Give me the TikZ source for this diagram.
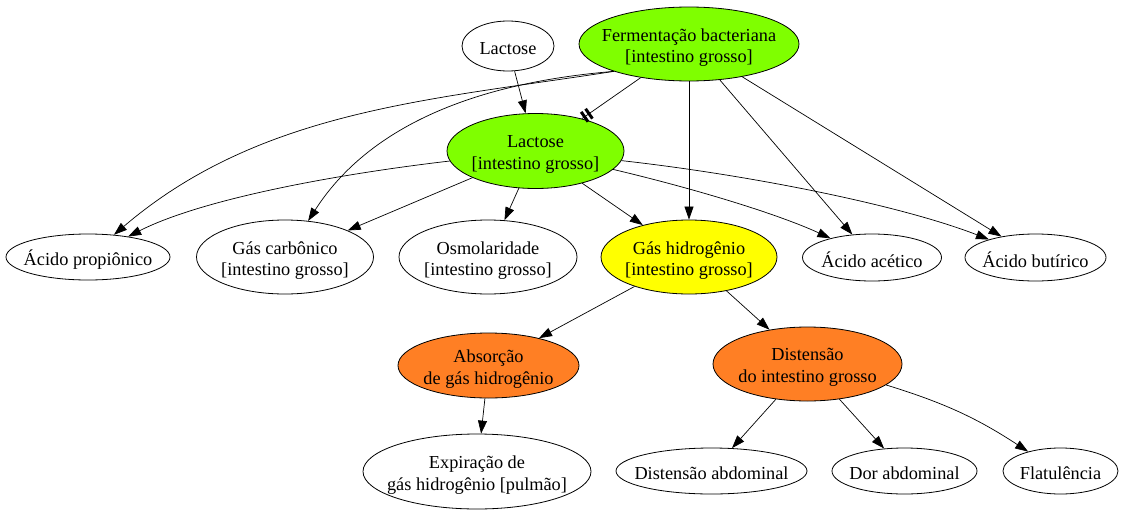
\documentclass[tikz,border=0pt]{standalone}
\usepackage{fontspec}
\setmainfont{Liberation Serif}
\usetikzlibrary{shapes.geometric,arrows.meta}
\definecolor{gvgreen}{HTML}{7FFF00}
\definecolor{gvyellow}{HTML}{FFFF00}
\definecolor{gvorange}{HTML}{FF7F24}
\begin{document}
\begin{tikzpicture}[x=1pt,y=-1pt,
  ell/.style={ellipse,draw=black,line width=0.8pt,inner sep=0pt},
  txt/.style={font=\fontsize{18.3}{21.5}\selectfont,align=center,inner sep=0pt,yshift=-3.5pt},
  conn/.style={draw=black,line width=0.7pt,-{Triangle[length=13pt,width=9pt]}},
  plainconn/.style={draw=black,line width=0.7pt},
  teebar/.style={sloped,rectangle,fill=black,draw=none,minimum width=3pt,minimum height=12pt,inner sep=0pt}
]
\useasboundingbox (0,0) rectangle (1124,514);
% top
\node[ell,minimum width=92pt,minimum height=50pt,label={[txt,yshift=1pt]center:Lactose}] (lac) at (508,46) {};
\node[ell,fill=gvgreen,minimum width=220pt,minimum height=74pt,label={[txt]center:Fermentação bacteriana\\{}[intestino grosso]}] (ferm) at (689,44) {};
\node[ell,fill=gvgreen,minimum width=177pt,minimum height=75pt,label={[txt]center:Lactose\\{}[intestino grosso]}] (lig) at (535.5,151) {};
% middle row
\node[ell,minimum width=164pt,minimum height=46pt,label={[txt,yshift=1pt]center:Ácido propiônico}] (prop) at (88,257) {};
\node[ell,minimum width=177pt,minimum height=74pt,label={[txt]center:Gás carbônico\\{}[intestino grosso]}] (carb) at (285,257) {};
\node[ell,minimum width=178pt,minimum height=74pt,label={[txt]center:Osmolaridade\\{}[intestino grosso]}] (osm) at (488,257) {};
\node[ell,fill=gvyellow,minimum width=176pt,minimum height=74pt,label={[txt]center:Gás hidrogênio\\{}[intestino grosso]}] (gh) at (689,257) {};
\node[ell,minimum width=139pt,minimum height=47pt,label={[txt,yshift=1pt]center:Ácido acético}] (acet) at (872,257.5) {};
\node[ell,minimum width=141pt,minimum height=47pt,label={[txt,yshift=1pt]center:Ácido butírico}] (buty) at (1035.5,257.5) {};
% lower
\node[ell,fill=gvorange,minimum width=181pt,minimum height=65pt,label={[txt]center:Absorção\\de gás hidrogênio}] (abs) at (488.5,365.5) {};
\node[ell,fill=gvorange,minimum width=189pt,minimum height=74pt,label={[txt]center:Distensão\\do intestino grosso}] (dig) at (807.5,364) {};
% bottom row
\node[ell,minimum width=228pt,minimum height=75pt,label={[txt]center:Expiração de\\gás hidrogênio [pulmão]}] (exp) at (477,471.5) {};
\node[ell,minimum width=191pt,minimum height=46pt,label={[txt,yshift=1pt]center:Distensão abdominal}] (dabd) at (711.5,471) {};
\node[ell,minimum width=145pt,minimum height=46pt,label={[txt,yshift=1pt]center:Dor abdominal}] (dor) at (904.5,471) {};
\node[ell,minimum width=115pt,minimum height=46pt,label={[txt,yshift=1pt]center:Flatulência}] (flat) at (1060.5,471) {};
% connectors
\draw[conn] (lac) -- (lig);
\draw[plainconn] (ferm) -- (lig) node[teebar,pos=0.954] (tee1) {} node[teebar,pos=0.879] (tee2) {};
\draw[conn] (ferm) -- (gh);
\draw[conn] (ferm) -- (acet);
\draw[conn] (ferm) -- (buty);
\draw[conn] (ferm.200) .. controls (430,100) and (260,110) .. (prop);
\draw[conn] (ferm.200) .. controls (450,85) and (360,140) .. (carb);
\draw[conn] (lig) .. controls (330,175) and (200,200) .. (prop);
\draw[conn] (lig) -- (carb);
\draw[conn] (lig) -- (osm);
\draw[conn] (lig) -- (gh);
\draw[conn] (lig) .. controls (700,190) and (780,215) .. (acet);
\draw[conn] (lig) .. controls (750,175) and (900,205) .. (buty);
\draw[conn] (gh) -- (abs);
\draw[conn] (gh) -- (dig);
\draw[conn] (abs) -- (exp);
\draw[conn] (dig) -- (dabd);
\draw[conn] (dig) -- (dor);
\draw[conn] (dig) to[bend left=8] (flat);
\end{tikzpicture}
\end{document}
